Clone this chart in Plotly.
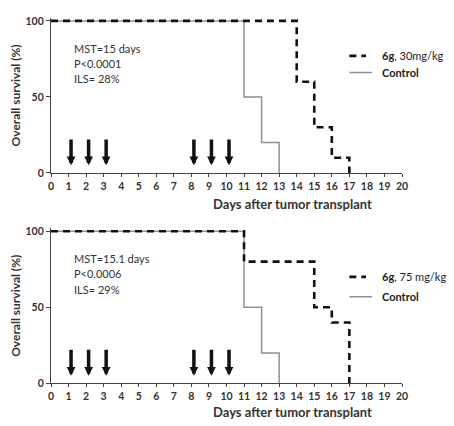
import plotly.graph_objects as go

# ---- data ----
days_ticks = list(range(0, 21))
control_days = [0, 11, 12, 13]
control_surv = [100, 50, 20, 0]
g30_days = [0, 14, 15, 16, 17]
g30_surv = [100, 60, 30, 10, 0]
g75_days = [0, 11, 15, 16, 17]
g75_surv = [100, 80, 50, 40, 0]
dose_days = [1, 2, 3, 8, 9, 10]
y_ticks = [0, 50, 100]
top_stats = ["MST=15 days", "P<0.0001", "ILS= 28%"]
bot_stats = ["MST=15.1 days", "P<0.0006", "ILS= 29%"]
top_label = "<b>6g</b>, 30mg/kg"
bot_label = "<b>6g</b>, 75 mg/kg"
ctrl_label = "<b>Control</b>"

FONT = "Lato"
OFF = 8  # default page body margin
W, H = 454 - OFF, 426 - OFF

fig = go.Figure()

def add_panel(row, dx, dy, dlabel, stats, leg_y):
    xa = "x" if row == 1 else "x2"
    ya = "y" if row == 1 else "y2"
    fig.add_trace(go.Scatter(x=control_days, y=control_surv, mode="lines", line_shape="hv",
                             line=dict(color="#8f8f8f", width=1.5), xaxis=xa, yaxis=ya,
                             showlegend=False))
    fig.add_trace(go.Scatter(x=dx, y=dy, mode="lines", line_shape="hv",
                             line=dict(color="#111111", width=2.6, dash="7px,5px"),
                             xaxis=xa, yaxis=ya, showlegend=False))
    for d in dose_days:
        fig.add_annotation(x=d, y=5, ax=d, ay=23, xref=xa, yref=ya, axref=xa, ayref=ya,
                           xshift=2.5, showarrow=True, arrowhead=2, arrowsize=0.5,
                           arrowwidth=3.5, arrowcolor="#111111", text="")
    for s, yv in zip(stats, [82, 72, 62]):
        fig.add_annotation(x=1.2, y=yv, xref=xa, yref=ya, text=s, showarrow=False,
                           xanchor="left", yanchor="middle",
                           font=dict(family=FONT, size=11, color="#333333"))
    # legend
    fig.add_shape(type="line", x0=17.0, x1=17.95, y0=leg_y[0], y1=leg_y[0], xref=xa, yref=ya,
                  line=dict(color="#111111", width=2.6, dash="7px,5px"))
    fig.add_shape(type="line", x0=17.0, x1=18.3, y0=leg_y[1], y1=leg_y[1], xref=xa, yref=ya,
                  line=dict(color="#8f8f8f", width=1.5))
    fig.add_annotation(x=18.75, y=leg_y[0], xref=xa, yref=ya, text=dlabel, showarrow=False,
                       xanchor="left", yanchor="middle",
                       font=dict(family=FONT, size=11, color="#222222"))
    fig.add_annotation(x=18.75, y=leg_y[1], xref=xa, yref=ya, text=ctrl_label, showarrow=False,
                       xanchor="left", yanchor="middle",
                       font=dict(family=FONT, size=11, color="#222222"))

add_panel(1, g30_days, g30_surv, top_label, top_stats, (77, 66))
add_panel(2, g75_days, g75_surv, bot_label, bot_stats, (70, 57))

def ydom(top_px, bottom_px):
    return [1 - (bottom_px - OFF) / H, 1 - (top_px - OFF) / H]

xaxis_style = dict(range=[0, 20], tickmode="array", tickvals=days_ticks,
                   ticktext=[f"<b>{d}</b>" for d in days_ticks],
                   showline=True, linecolor="#444444", linewidth=1.2,
                   ticks="outside", ticklen=3, tickcolor="#444444", showgrid=False,
                   zeroline=False, tickfont=dict(family=FONT, size=10.5, color="#333333"))
yaxis_style = dict(range=[0, 102], tickmode="array", tickvals=y_ticks,
                   ticktext=[f"<b>{v}</b>" for v in y_ticks],
                   showline=True, linecolor="#444444", linewidth=1.2,
                   ticks="outside", ticklen=4, tickcolor="#444444", showgrid=False,
                   zeroline=False, tickfont=dict(family=FONT, size=10.5, color="#333333"),
                   title=dict(text="<b>Overall survival (%)</b>", standoff=9,
                              font=dict(family=FONT, size=12, color="#333333")))

L_PX, R_PX = 47.5, 401.7
fig.update_layout(
    width=W, height=H,
    margin=dict(l=L_PX - OFF, r=454 - R_PX, t=0, b=0, pad=0),
    paper_bgcolor="white", plot_bgcolor="white",
    xaxis=dict(domain=[0, 1], anchor="y", **xaxis_style),
    yaxis=dict(domain=ydom(15, 173.5), anchor="x", **yaxis_style),
    xaxis2=dict(domain=[0, 1], anchor="y2", **xaxis_style),
    yaxis2=dict(domain=ydom(230, 388.5), anchor="x2", **yaxis_style),
)

for py in (205, 418):
    fig.add_annotation(x=(291 - L_PX) / (R_PX - L_PX), y=1 - (py - OFF) / H,
                       xref="paper", yref="paper",
                       text="<b>Days after tumor transplant</b>", showarrow=False,
                       xanchor="center", yanchor="middle",
                       font=dict(family=FONT, size=13, color="#333333"))

fig.write_html("out.html")
